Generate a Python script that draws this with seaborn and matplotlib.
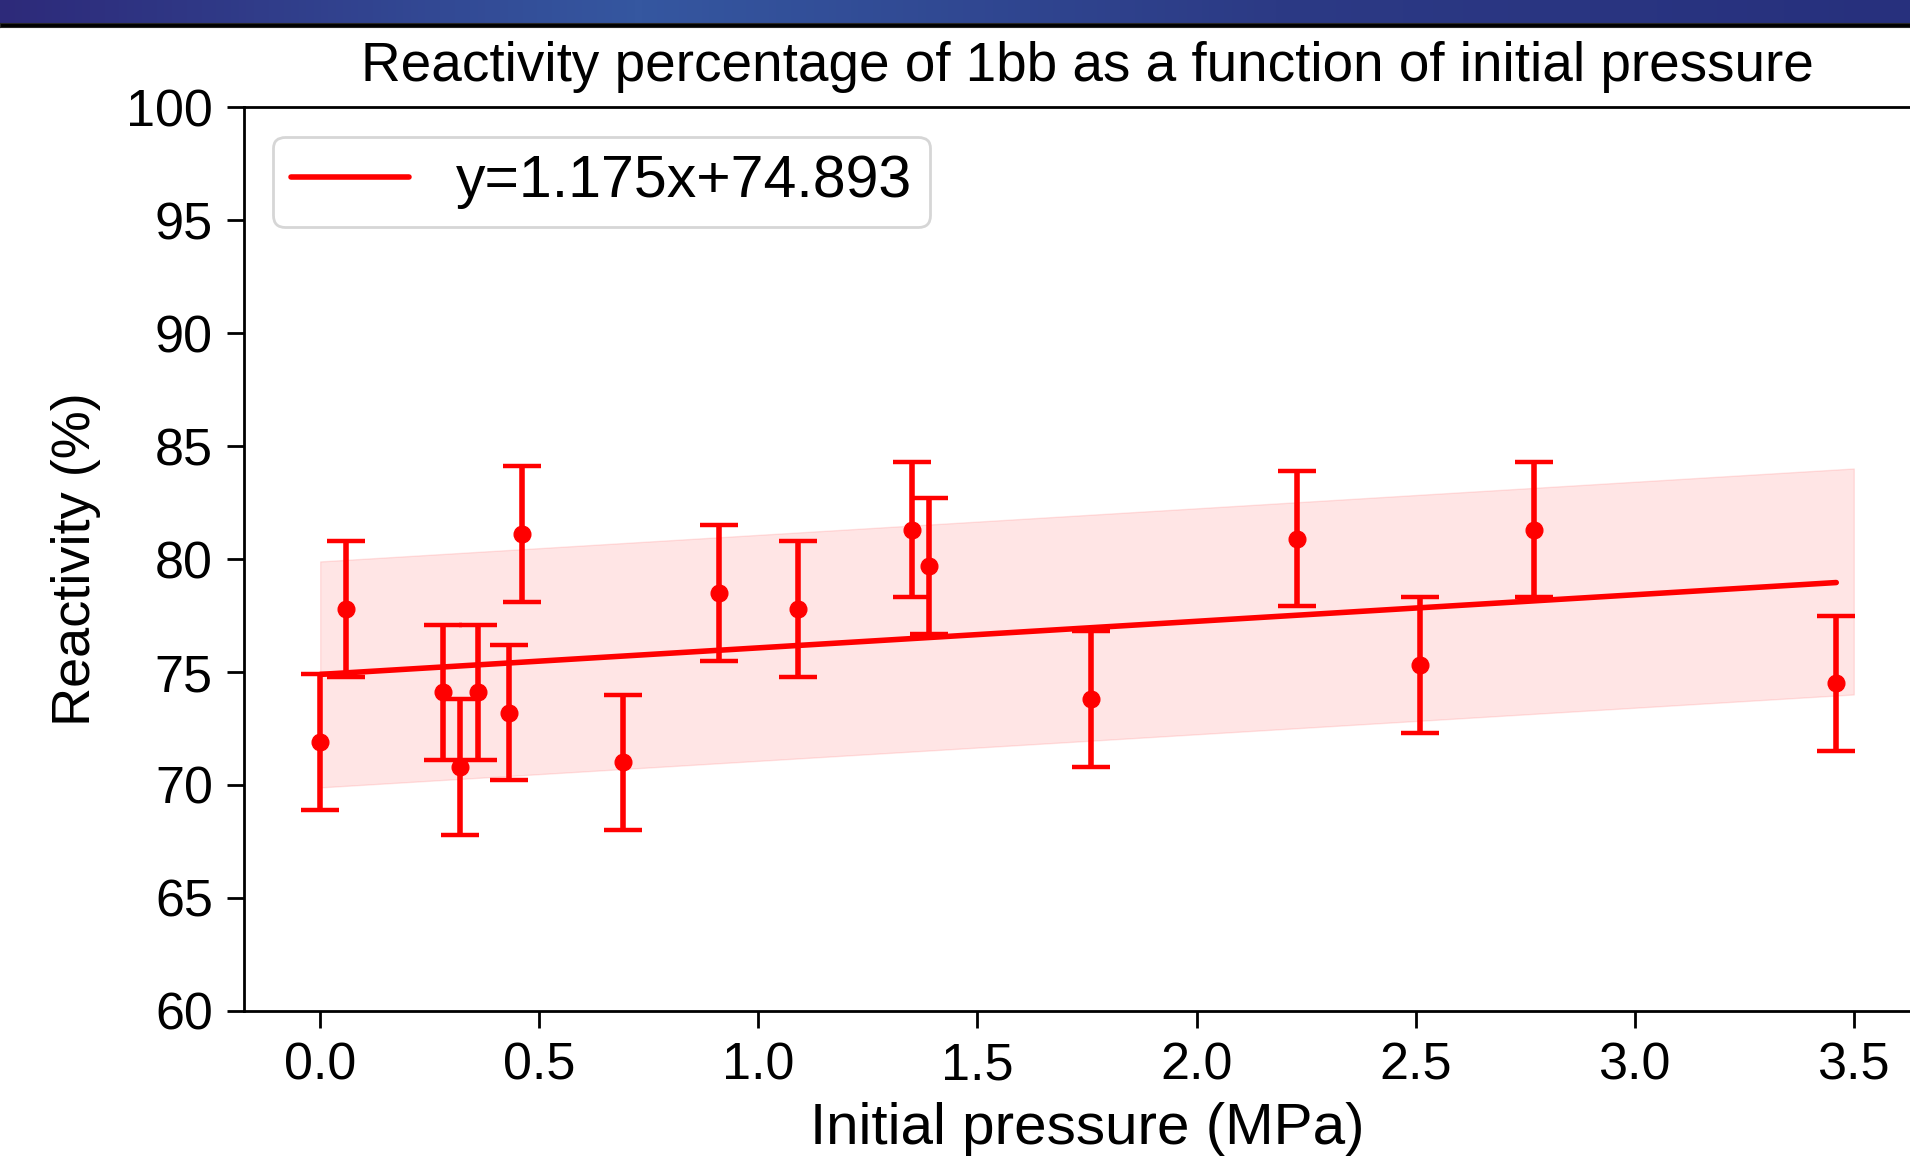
import numpy as np
import matplotlib
matplotlib.use("Agg")
import matplotlib.pyplot as plt
from matplotlib.colors import LinearSegmentedColormap
import seaborn as sns

# data
pressure = [0.0, 0.06, 0.28, 0.32, 0.36, 0.43, 0.46, 0.69, 0.91, 1.09,
            1.35, 1.39, 1.76, 2.23, 2.51, 2.77, 3.46]
reactivity = [71.9, 77.8, 74.1, 70.8, 74.1, 73.2, 81.1, 71.0, 78.5, 77.8,
              81.3, 79.7, 73.8, 80.9, 75.3, 81.3, 74.5]
error = [3.0, 3.0, 3.0, 3.0, 3.0, 3.0, 3.0, 3.0, 3.0, 3.0,
         3.0, 3.0, 3.0, 3.0, 3.0, 3.0, 3.0]

slope = 1.175
intercept = 74.893
band_x = [0.0, 3.5]
band_half = 5.0
y_ticks = [60, 65, 70, 75, 80, 85, 90, 95, 100]

fit_label = f"y={slope}x+{intercept}"

sns.set_style("ticks")
plt.rcParams['font.family'] = ['Liberation Sans', 'DejaVu Sans']
plt.rcParams['text.color'] = 'black'
plt.rcParams['axes.labelcolor'] = 'black'
plt.rcParams['xtick.color'] = 'black'
plt.rcParams['ytick.color'] = 'black'

fig = plt.figure(figsize=(19.1, 11.57), dpi=100)

# slide banner at the top
banner = fig.add_axes([0, 1 - 23 / 1157, 1, 23 / 1157])
banner_cmap = LinearSegmentedColormap.from_list(
    "banner", ["#2d2a7a", "#3557a0", "#2c3a85", "#27307d"])
banner.imshow(np.linspace(0, 1, 256)[None, :], aspect='auto', cmap=banner_cmap)
banner.axis('off')
strip = fig.add_axes([0, 1 - 27 / 1157, 1, 4 / 1157])
strip.set_facecolor('black')
strip.set_xticks([])
strip.set_yticks([])

ax = fig.add_axes([0.1275, 0.1262, 0.8832, 0.7813])

# confidence band
bx = np.array(band_x)
ax.fill_between(bx, slope * bx + intercept - band_half, slope * bx + intercept + band_half,
                color='red', alpha=0.1, zorder=1)

# fitted line over the measured range
fit_x = [min(pressure), max(pressure)]
fit_y = [slope * v + intercept for v in fit_x]
sns.lineplot(x=fit_x, y=fit_y, color='red', linewidth=4, label=fit_label,
             ax=ax, zorder=2)

# measurements with error bars
ax.errorbar(pressure, reactivity, yerr=error, fmt='o', color='red', markersize=12,
            elinewidth=4, capsize=14, capthick=3.2, zorder=3)

ax.set_ylim(60, 100)
ax.set_yticks(y_ticks)
ax.set_title("Reactivity percentage of 1bb as a function of initial pressure",
             fontsize=39.5, pad=19)
ax.set_xlabel("Initial pressure (MPa)", fontsize=42, labelpad=8)
ax.set_ylabel("Reactivity (%)", fontsize=39, labelpad=18)
ax.tick_params(axis='both', labelsize=37.5, length=12, width=2, pad=10)
for s in ax.spines.values():
    s.set_linewidth(2)
    s.set_color('black')

leg = ax.legend(loc='upper left', fontsize=42.5, framealpha=0.8, borderpad=0.3)
leg.get_frame().set_linewidth(2)
leg.get_frame().set_edgecolor('0.8')

fig.savefig("out.png", dpi=100)
